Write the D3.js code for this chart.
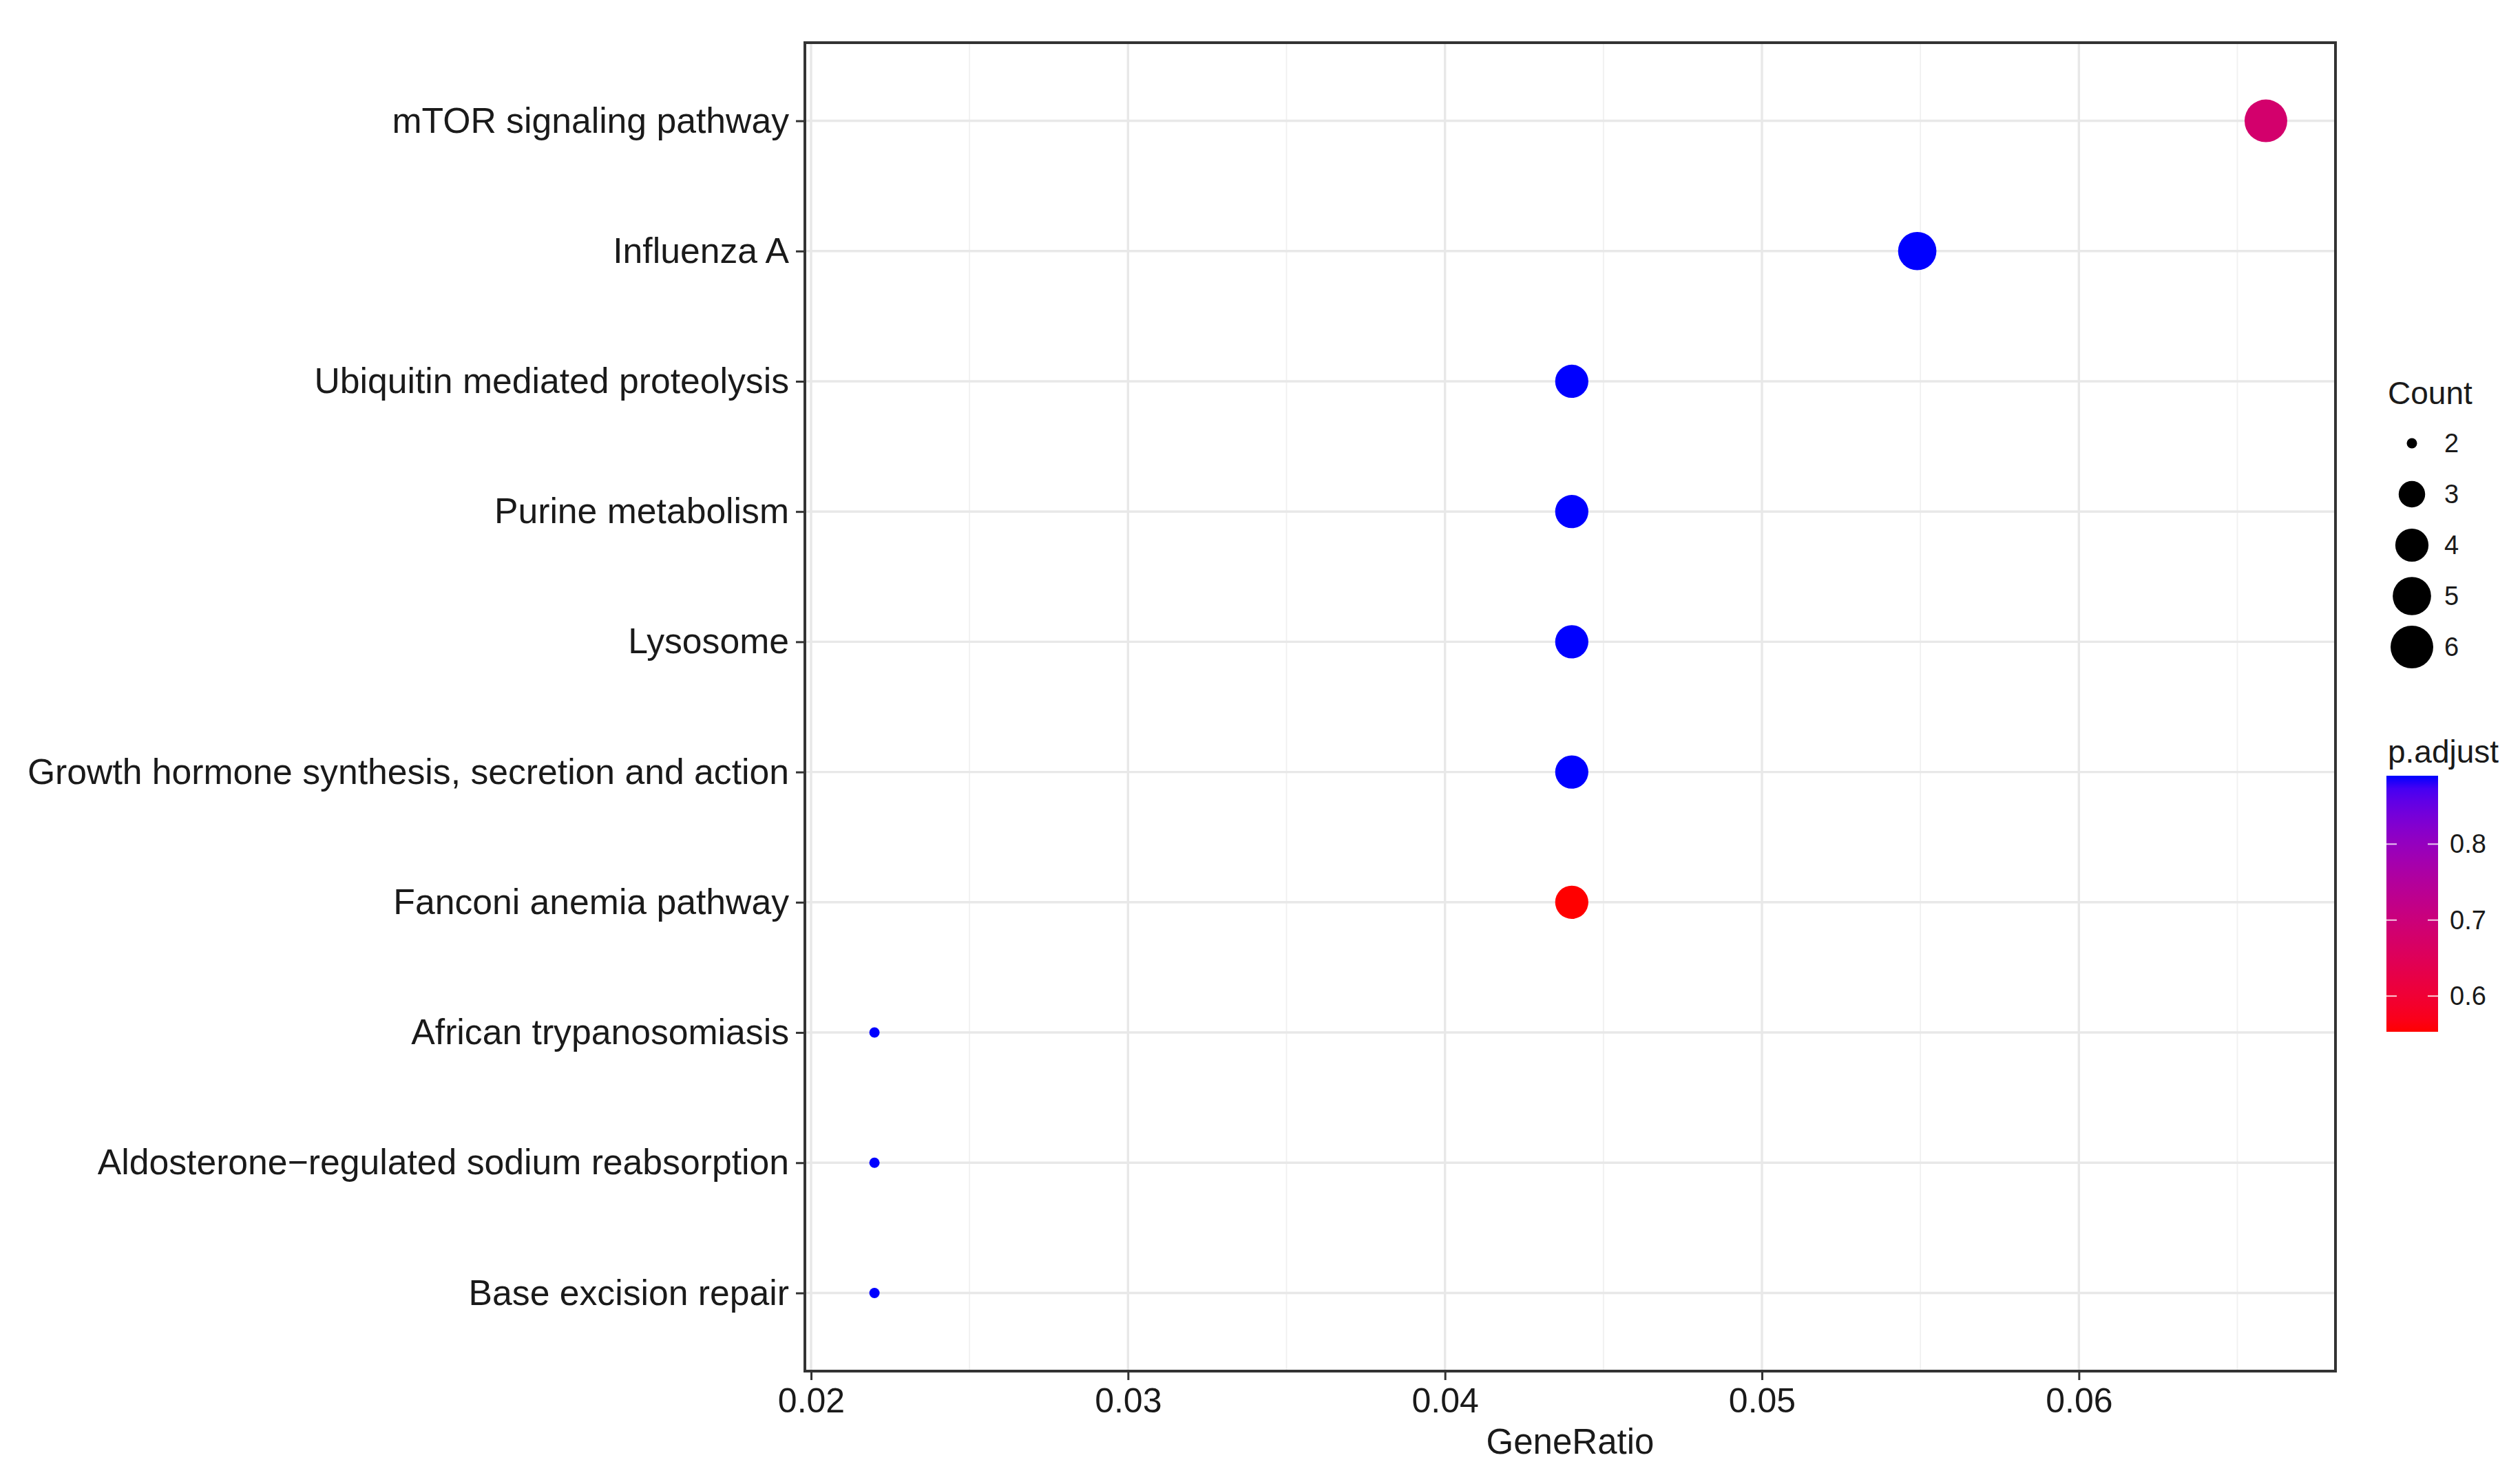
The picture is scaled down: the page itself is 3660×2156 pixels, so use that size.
<!DOCTYPE html>
<html>
<head>
<meta charset="utf-8">
<script src="https://cdnjs.cloudflare.com/ajax/libs/d3/7.8.5/d3.min.js"></script>
<style>
  html, body { margin: 0; padding: 0; background: #fff; }
  text { font-family: "Liberation Sans", Arial, Helvetica, sans-serif; }
</style>
</head>
<body>
<svg width="3660" height="2156"></svg>
<script>
// pathways, top to bottom
var categories = [
  "mTOR signaling pathway",
  "Influenza A",
  "Ubiquitin mediated proteolysis",
  "Purine metabolism",
  "Lysosome",
  "Growth hormone synthesis, secretion and action",
  "Fanconi anemia pathway",
  "African trypanosomiasis",
  "Aldosterone\u2212regulated sodium reabsorption",
  "Base excision repair"
];
var geneRatio = [0.0659, 0.0549, 0.0440, 0.0440, 0.0440, 0.0440, 0.0440, 0.0220, 0.0220, 0.0220];
var counts    = [6, 5, 4, 4, 4, 4, 4, 2, 2, 2];
var pAdjust   = [0.68, 0.89, 0.89, 0.89, 0.89, 0.89, 0.553, 0.89, 0.89, 0.89];

var xTicks = [0.02, 0.03, 0.04, 0.05, 0.06];
var xMinor = [0.025, 0.035, 0.045, 0.055, 0.065];
var countBreaks = [2, 3, 4, 5, 6];
var pBreaks = [0.6, 0.7, 0.8];

var svg = d3.select("svg"),
    width = +svg.attr("width"),
    height = +svg.attr("height");

svg.append("rect").attr("width", width).attr("height", height).attr("fill", "#fff");

var panel = {left: 1169, right: 3392, top: 62, bottom: 1992};

var data = categories.map(function(d, i) {
  return {name: d, ratio: geneRatio[i], count: counts[i], p: pAdjust[i]};
});

// 5% expansion like ggplot
var ext = d3.extent(geneRatio), pad = (ext[1] - ext[0]) * 0.05;
var x = d3.scaleLinear()
    .domain([ext[0] - pad, ext[1] + pad])
    .range([panel.left, panel.right]);

var y = d3.scalePoint()
    .domain(categories)
    .range([panel.top, panel.bottom])
    .padding(0.6);

var norm = d3.scaleLinear().domain(d3.extent(countBreaks)).range([0, 1]);
var rScale = d3.scaleSqrt().domain([0, 1]).range([7.5, 31]);
function radius(c) { return rScale(norm(c)); }

var pExt = d3.extent(pAdjust);
var pNorm = d3.scaleLinear().domain(pExt).range([0, 1]);
var redBlue = d3.interpolateLab("#ff0000", "#0000ff");
function color(p) { return redBlue(pNorm(p)); }

// grid
var grid = svg.append("g").attr("class", "grid");
grid.selectAll("line.minor")
  .data(xMinor)
  .enter().append("line")
    .attr("class", "minor")
    .attr("x1", function(d) { return x(d); })
    .attr("x2", function(d) { return x(d); })
    .attr("y1", panel.top).attr("y2", panel.bottom)
    .attr("stroke", "#F0F0F0")
    .attr("stroke-width", 1.8);
grid.selectAll("line.major")
  .data(xTicks)
  .enter().append("line")
    .attr("class", "major")
    .attr("x1", function(d) { return x(d); })
    .attr("x2", function(d) { return x(d); })
    .attr("y1", panel.top).attr("y2", panel.bottom)
    .attr("stroke", "#E8E8E8")
    .attr("stroke-width", 3.4);
grid.selectAll("line.row")
  .data(categories)
  .enter().append("line")
    .attr("class", "row")
    .attr("x1", panel.left).attr("x2", panel.right)
    .attr("y1", function(d) { return y(d); })
    .attr("y2", function(d) { return y(d); })
    .attr("stroke", "#E8E8E8")
    .attr("stroke-width", 3.4);

// points
svg.append("g")
    .attr("class", "points")
  .selectAll("circle")
  .data(data)
  .enter().append("circle")
    .attr("cx", function(d) { return x(d.ratio); })
    .attr("cy", function(d) { return y(d.name); })
    .attr("r", function(d) { return radius(d.count); })
    .attr("fill", function(d) { return color(d.p); });

// panel border
svg.append("rect")
    .attr("x", panel.left).attr("y", panel.top)
    .attr("width", panel.right - panel.left)
    .attr("height", panel.bottom - panel.top)
    .attr("fill", "none")
    .attr("stroke", "#333333")
    .attr("stroke-width", 4);

// axes
var xAxis = svg.append("g")
    .attr("transform", "translate(0," + panel.bottom + ")")
    .call(d3.axisBottom(x).tickValues(xTicks).tickSize(13).tickPadding(11)
      .tickFormat(d3.format(".2f")));
var yAxis = svg.append("g")
    .attr("transform", "translate(" + panel.left + ",0)")
    .call(d3.axisLeft(y).tickSize(13).tickPadding(10));

[xAxis, yAxis].forEach(function(a) {
  a.select(".domain").remove();
  a.selectAll(".tick line").attr("stroke", "#333333").attr("stroke-width", 3);
  a.selectAll(".tick text")
    .attr("fill", "#1A1A1A")
    .style("font-size", "51.7px")
    .style("font-family", "'Liberation Sans', Arial, sans-serif");
});
xAxis.selectAll(".tick text").style("font-size", "50px");

svg.append("text")
    .attr("x", (panel.left + panel.right) / 2)
    .attr("y", 2112)
    .attr("text-anchor", "middle")
    .attr("fill", "#1A1A1A")
    .style("font-size", "51px")
    .text("GeneRatio");

// size legend
var sizeLegend = svg.append("g").attr("class", "legend-size");
sizeLegend.append("text")
    .attr("x", 3468).attr("y", 587)
    .attr("fill", "#1A1A1A")
    .style("font-size", "46px")
    .text("Count");
var keyY = d3.scalePoint().domain(countBreaks).range([644, 940]);
sizeLegend.selectAll("circle")
  .data(countBreaks)
  .enter().append("circle")
    .attr("cx", 3503)
    .attr("cy", function(d) { return keyY(d); })
    .attr("r", function(d) { return radius(d); })
    .attr("fill", "#000");
sizeLegend.selectAll("text.lab")
  .data(countBreaks)
  .enter().append("text")
    .attr("class", "lab")
    .attr("x", 3550)
    .attr("y", function(d) { return keyY(d) + 13; })
    .attr("fill", "#1A1A1A")
    .style("font-size", "38px")
    .text(function(d) { return d; });

// colour bar legend
var bar = {x: 3466, w: 75, top: 1127, bottom: 1499};
var cb = svg.append("g").attr("class", "legend-color");
cb.append("text")
    .attr("x", 3468).attr("y", 1108)
    .attr("fill", "#1A1A1A")
    .style("font-size", "46px")
    .text("p.adjust");

var grad = svg.append("defs").append("linearGradient")
    .attr("id", "pgrad")
    .attr("x1", 0).attr("y1", 1).attr("x2", 0).attr("y2", 0);
grad.selectAll("stop")
  .data(d3.range(0, 1.0001, 0.05))
  .enter().append("stop")
    .attr("offset", function(d) { return d; })
    .attr("stop-color", function(d) { return redBlue(d); });

cb.append("rect")
    .attr("x", bar.x).attr("y", bar.top)
    .attr("width", bar.w).attr("height", bar.bottom - bar.top)
    .attr("fill", "url(#pgrad)");

var barY = d3.scaleLinear().domain(pExt).range([bar.bottom, bar.top]);
pBreaks.forEach(function(b) {
  cb.append("line")
      .attr("x1", bar.x).attr("x2", bar.x + 15)
      .attr("y1", barY(b)).attr("y2", barY(b))
      .attr("stroke", "#fff").attr("stroke-opacity", 0.8).attr("stroke-width", 2);
  cb.append("line")
      .attr("x1", bar.x + bar.w - 15).attr("x2", bar.x + bar.w)
      .attr("y1", barY(b)).attr("y2", barY(b))
      .attr("stroke", "#fff").attr("stroke-opacity", 0.8).attr("stroke-width", 2);
  cb.append("text")
      .attr("x", 3558)
      .attr("y", barY(b) + 13)
      .attr("fill", "#1A1A1A")
      .style("font-size", "38px")
      .text(d3.format(".1f")(b));
});
</script>
</body>
</html>
